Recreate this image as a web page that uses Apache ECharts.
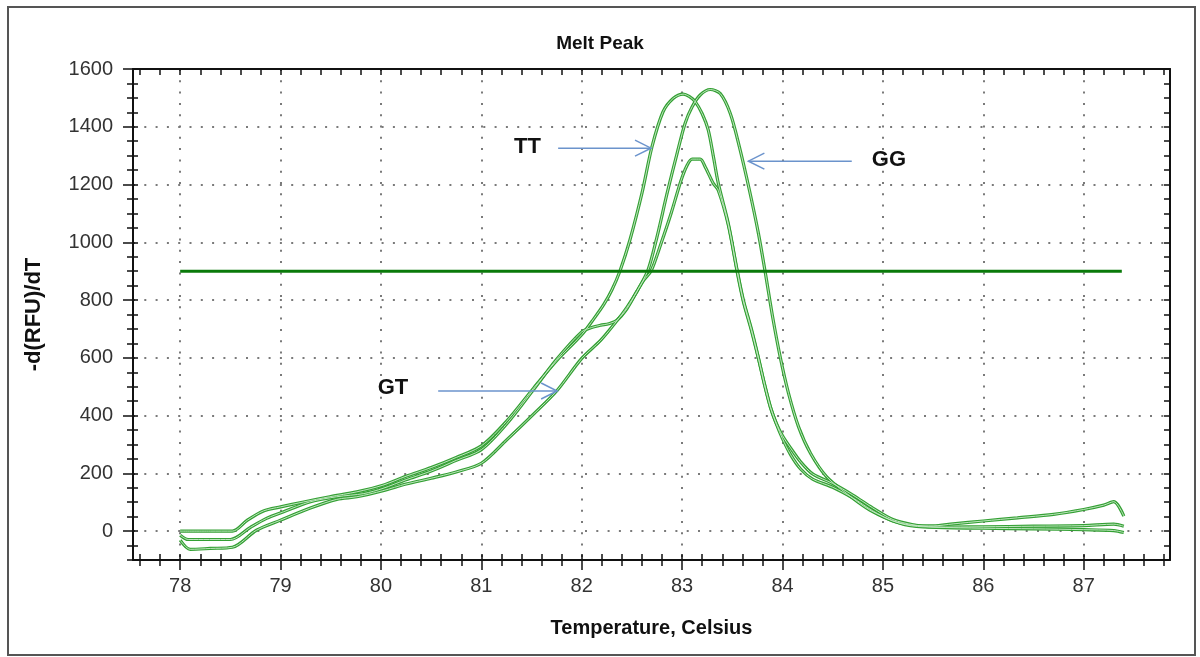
<!DOCTYPE html>
<html><head><meta charset="utf-8">
<script src="https://cdn.jsdelivr.net/npm/echarts@6/dist/echarts.min.js"></script>
<style>html,body{margin:0;padding:0;background:#fff}#chart{width:1200px;height:657px}</style>
</head><body><div id="chart"></div>
<script>
// ---- tick labels ----
const xTickLabels = [78, 79, 80, 81, 82, 83, 84, 85, 86, 87];
const yTickLabels = [0, 200, 400, 600, 800, 1000, 1200, 1400, 1600];

// ---- melt curves (Temperature, -d(RFU)/dT) ----
const ttTemp = [78.0, 78.3, 78.52, 78.67, 78.83, 79.0, 79.23, 79.49, 79.76, 80.02, 80.25, 80.5, 80.75, 81.0, 81.25, 81.52, 81.75, 82.0, 82.12, 82.22, 82.3, 82.38, 82.48, 82.6, 82.7, 82.81, 82.91, 83.01, 83.07, 83.13, 83.2, 83.26, 83.31, 83.36, 83.46, 83.55, 83.61, 83.69, 83.76, 83.82, 83.88, 83.94, 84.0, 84.08, 84.18, 84.3, 84.5, 84.7, 84.9, 85.1, 85.3, 85.5, 85.7, 86.0, 86.34, 86.7, 87.0, 87.2, 87.3, 87.4];
const ttValue = [0, 0, 0, 38, 70, 84, 101, 119, 136, 159, 190, 220, 255, 295, 380, 495, 590, 680, 735, 785, 835, 900, 1008, 1170, 1331, 1452, 1498, 1513, 1505, 1487, 1445, 1389, 1300, 1205, 1065, 900, 800, 700, 600, 510, 430, 370, 320, 265, 215, 180, 152, 115, 70, 35, 20, 18, 25, 35, 46, 58, 75, 90, 102, 52];

const gtTemp = [78.0, 78.08, 78.5, 78.7, 78.86, 79.03, 79.29, 79.56, 79.83, 80.02, 80.25, 80.5, 80.75, 81.0, 81.25, 81.52, 81.75, 82.0, 82.1, 82.19, 82.27, 82.35, 82.45, 82.55, 82.62, 82.69, 82.79, 82.89, 82.99, 83.05, 83.1, 83.18, 83.23, 83.31, 83.36, 83.46, 83.55, 83.61, 83.69, 83.76, 83.82, 83.88, 83.94, 84.0, 84.08, 84.18, 84.3, 84.5, 84.7, 84.9, 85.1, 85.3, 85.5, 86.0, 86.5, 87.0, 87.3, 87.4];
const gtValue = [-14, -29, -29, 13, 44, 67, 101, 119, 130, 148, 178, 208, 245, 282, 370, 490, 595, 690, 705, 713, 718, 730, 770, 830, 870, 900, 996, 1100, 1215, 1267, 1288, 1288, 1261, 1204, 1180, 1060, 895, 795, 695, 598, 508, 428, 372, 330, 288, 240, 198, 165, 125, 80, 40, 22, 14, 10, 8, 5, 2, -5];

const ggTemp = [78.0, 78.1, 78.3, 78.52, 78.76, 79.0, 79.29, 79.56, 79.76, 80.02, 80.25, 80.5, 80.75, 81.0, 81.25, 81.52, 81.75, 82.0, 82.19, 82.35, 82.45, 82.55, 82.66, 82.75, 82.85, 82.95, 83.03, 83.1, 83.18, 83.28, 83.38, 83.48, 83.57, 83.67, 83.76, 83.83, 83.9, 83.98, 84.06, 84.16, 84.28, 84.44, 84.64, 84.87, 85.17, 85.4, 85.7, 86.0, 86.5, 87.0, 87.3, 87.4];
const ggValue = [-31, -63, -60, -56, 3, 38, 79, 110, 119, 140, 163, 183, 205, 235, 315, 405, 485, 598, 661, 728, 775, 830, 904, 1019, 1169, 1308, 1412, 1469, 1510, 1529, 1515, 1446, 1331, 1181, 1031, 892, 745, 598, 477, 361, 269, 188, 130, 73, 27, 15, 14, 15, 17, 19, 24, 17];

// ---- threshold ----
const thresholdTemp = [78, 87.38];
const thresholdValue = 900;

// ---- annotations ----
const annLabels = ['TT', 'GG', 'GT'];
const annTextTemp = [81.46, 85.06, 80.12];
const annTextValue = [1330, 1285, 495];
const annArrowFrom = [81.765, 84.69, 80.57];
const annArrowTo = [82.69, 83.66, 81.755];
const annArrowValue = [1326, 1281, 485];

// ---- layout / style ----
const X_MIN = 77.53, X_MAX = 87.86, Y_MIN = -100, Y_MAX = 1600;
const FONT = '"Liberation Sans", Arial, sans-serif';
const AXIS_COLOR = '#111';
const CURVE_COLOR = '#34a034';
const CURVE_CORE = '#bfe6bf';
const ARROW_COLOR = '#6b93cc';

const xMinor = [];
for (let i = 0; i <= 51; i++) xMinor.push(+(77.6 + i * 0.2).toFixed(2));
const yMinor = [];
for (let i = 0; i <= 34; i++) yMinor.push(-100 + i * 50);

function zip(a, b) { return a.map((v, i) => [v, b[i]]); }

const dotted = { color: '#7a7a7a', width: 2, type: [2, 9.3] };
const tickLine = { color: AXIS_COLOR, width: 1.5 };

function hiddenAxis(extra) {
  return Object.assign({
    type: 'value', axisLabel: { show: false }, splitLine: { show: false },
    axisLine: { show: false, onZero: false }
  }, extra);
}

const curveSets = [[ttTemp, ttValue], [gtTemp, gtValue], [ggTemp, ggValue]];
const series = [];
curveSets.forEach(([t, v]) => {
  series.push({ type: 'line', data: zip(t, v), showSymbol: false, smooth: 0.3, z: 3,
    lineStyle: { color: CURVE_COLOR, width: 3.2 }, silent: true });
});
curveSets.forEach(([t, v]) => {
  series.push({ type: 'line', data: zip(t, v), showSymbol: false, smooth: 0.3, z: 4,
    lineStyle: { color: CURVE_CORE, width: 1 }, silent: true });
});
series.push({ type: 'line', data: thresholdTemp.map(t => [t, thresholdValue]), showSymbol: false, z: 5,
  lineStyle: { color: '#0a7a0a', width: 3 }, silent: true });
series.push({
  type: 'custom', clip: false, z: 6, silent: true,
  data: annLabels.map((l, i) => [annArrowFrom[i], annArrowTo[i], annArrowValue[i], annTextTemp[i], annTextValue[i], i]),
  encode: { x: [0, 1, 3], y: [2, 4] },
  renderItem: function (params, api) {
    const p1 = api.coord([api.value(0), api.value(2)]);
    const p2 = api.coord([api.value(1), api.value(2)]);
    const pt = api.coord([api.value(3), api.value(4)]);
    const dir = p2[0] > p1[0] ? 1 : -1;
    return { type: 'group', children: [
      { type: 'line', shape: { x1: p1[0], y1: p1[1], x2: p2[0], y2: p2[1] }, style: { stroke: ARROW_COLOR, lineWidth: 1.5 } },
      { type: 'polyline', shape: { points: [[p2[0] - dir * 16, p2[1] - 8], [p2[0], p2[1]], [p2[0] - dir * 16, p2[1] + 8]] },
        style: { stroke: ARROW_COLOR, lineWidth: 1.5, fill: 'none' } },
      { type: 'text', style: { text: annLabels[api.value(5)], x: pt[0], y: pt[1], align: 'center', verticalAlign: 'middle',
        font: 'bold 22px ' + FONT, fill: '#111' } }
    ] };
  }
});

const option = {
  animation: false,
  backgroundColor: '#fff',
  title: { text: 'Melt Peak', left: 'center', top: 29,
    textStyle: { fontFamily: FONT, fontSize: 19, fontWeight: 'bold', color: '#111' } },
  grid: { left: 133, right: 30, top: 69, bottom: 97, containLabel: false },
  xAxis: [
    { type: 'value', position: 'bottom', min: X_MIN, max: X_MAX,
      axisLine: { show: true, onZero: false, lineStyle: { color: AXIS_COLOR, width: 2 } },
      axisTick: { show: true, customValues: xTickLabels, length: 10, lineStyle: tickLine },
      axisLabel: { customValues: xTickLabels, fontSize: 20, fontFamily: FONT, color: '#333', margin: 16,
        formatter: v => String(v) },
      splitLine: { show: true, lineStyle: dotted },
      name: 'Temperature, Celsius', nameLocation: 'middle', nameGap: 58,
      nameTextStyle: { fontFamily: FONT, fontSize: 20, fontWeight: 'bold', color: '#111' } },
    hiddenAxis({ position: 'bottom', min: X_MIN, max: X_MAX,
      axisTick: { show: true, customValues: xMinor, length: 6, lineStyle: tickLine } }),
    hiddenAxis({ position: 'bottom', min: X_MIN, max: X_MAX,
      axisTick: { show: true, inside: true, customValues: xMinor, length: 6, lineStyle: tickLine } }),
    hiddenAxis({ position: 'top', min: X_MIN, max: X_MAX,
      axisLine: { show: true, onZero: false, lineStyle: { color: AXIS_COLOR, width: 2 } },
      axisTick: { show: true, inside: true, customValues: xMinor, length: 6, lineStyle: tickLine } })
  ],
  yAxis: [
    { type: 'value', position: 'left', min: Y_MIN, max: Y_MAX,
      axisLine: { show: true, onZero: false, lineStyle: { color: AXIS_COLOR, width: 2 } },
      axisTick: { show: true, customValues: yTickLabels, length: 10, lineStyle: tickLine },
      axisLabel: { customValues: yTickLabels, fontSize: 20, fontFamily: FONT, color: '#333', margin: 20,
        formatter: v => String(v) },
      splitLine: { show: true, lineStyle: dotted },
      name: '-d(RFU)/dT', nameLocation: 'middle', nameGap: 88,
      nameTextStyle: { fontFamily: FONT, fontSize: 22, fontWeight: 'bold', color: '#111' } },
    hiddenAxis({ position: 'left', min: Y_MIN, max: Y_MAX,
      axisTick: { show: true, customValues: yMinor, length: 6, lineStyle: tickLine } }),
    hiddenAxis({ position: 'left', min: Y_MIN, max: Y_MAX,
      axisTick: { show: true, inside: true, customValues: yMinor, length: 5, lineStyle: tickLine } }),
    hiddenAxis({ position: 'right', min: Y_MIN, max: Y_MAX,
      axisLine: { show: true, onZero: false, lineStyle: { color: AXIS_COLOR, width: 2 } },
      axisTick: { show: true, inside: true, customValues: yMinor, length: 6, lineStyle: tickLine } })
  ],
  graphic: [
    { type: 'rect', shape: { x: 8, y: 7, width: 1187, height: 648 }, silent: true, z: -1,
      style: { fill: 'none', stroke: '#555', lineWidth: 2 } }
  ],
  series: series
};

const chart = echarts.init(document.getElementById('chart'), null, { renderer: 'canvas' });
chart.setOption(option);
</script>
</body></html>
